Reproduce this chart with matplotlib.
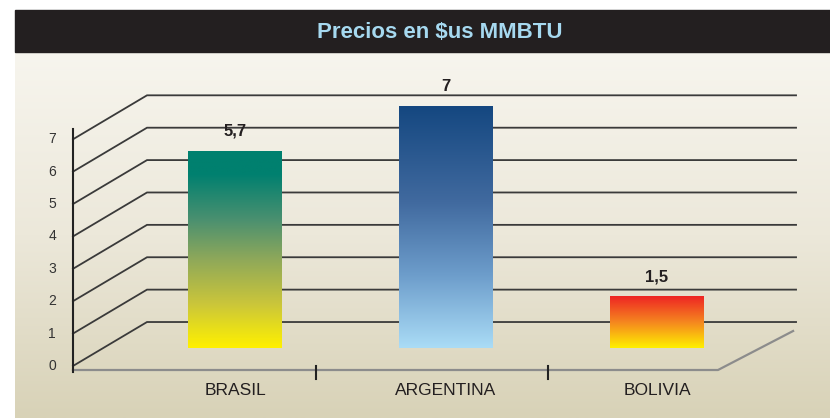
import matplotlib
matplotlib.use("Agg")  # headless

import matplotlib.pyplot as plt
import numpy as np
from matplotlib.colors import LinearSegmentedColormap
from matplotlib.patches import Rectangle

# ---------------------------------------------------------------------------
# Data
# ---------------------------------------------------------------------------
TITLE = r"Precios en \$us MMBTU"
CATEGORIES = ["BRASIL", "ARGENTINA", "BOLIVIA"]
PRICES = [5.7, 7.0, 1.5]
Y_TICKS = [0, 1, 2, 3, 4, 5, 6, 7]

# ---------------------------------------------------------------------------
# Style
# ---------------------------------------------------------------------------
W, H = 830, 418
C_TITLE_BG = "#231f20"
C_TITLE_FG = "#a6d9f0"
C_GRID = "#3a3a3a"
C_FLOOR = "#8c8c8c"
C_TEXT = "#231f20"
FONT = ["Liberation Sans", "DejaVu Sans"]

BAR_GRADIENTS = [
    [(0.0, "#00806f"), (0.12, "#00806f"), (0.35, "#4a9070"), (0.55, "#8ea85a"),
     (0.78, "#cbc63a"), (1.0, "#fff100")],
    [(0.0, "#144780"), (0.4, "#416a9f"), (0.7, "#6d9dcb"), (1.0, "#aadcf6")],
    [(0.0, "#ee2524"), (0.5, "#f5861f"), (1.0, "#fff000")],
]
BAR_WIDTH = 0.445

# pseudo-3D frame (in data units of the bar plane)
GRID_SCALE = 0.936          # grid step relative to one bar unit
FRONT_Y0, BACK_Y0 = -0.52, 0.751
FRONT_X, BACK_X, BACK_END = -0.768, -0.417, 2.659
FLOOR_Y, FLOOR_END = -0.636, 2.289
FLOOR_CORNER = (2.645, 0.491)
AXIS_TOP, AXIS_BOTTOM = 6.33, -0.694
SEPARATORS = [0.384, 1.483]
TICK_LABEL_X = -0.867
CAT_LABEL_Y = -1.214


def fmt(v: float) -> str:
    return f"{v:g}".replace(".", ",")


fig = plt.figure(figsize=(W / 100, H / 100), dpi=100)

# background + title band (pixel coordinates)
bg = fig.add_axes([0, 0, 1, 1])
bg.set_xlim(0, W)
bg.set_ylim(H, 0)
bg.axis("off")
beige = LinearSegmentedColormap.from_list("beige", ["#f7f5ee", "#ece8da", "#d8d2b7"])
bg.imshow(np.linspace(0, 1, 256).reshape(-1, 1), cmap=beige, aspect="auto",
          extent=(15, W, H, 52), zorder=0)
bg.add_patch(Rectangle((15, 10), W - 15, 42, color=C_TITLE_BG, zorder=1))
bg.text(440, 32, TITLE, ha="center", va="center", color=C_TITLE_FG,
        fontsize=16, fontweight="bold", family=FONT, zorder=2)
bg.set_xlim(0, W)
bg.set_ylim(H, 0)

# chart axes: x = category index, y = price (bar plane)
ax = fig.add_axes([0, 0, 1, 1])
ax.patch.set_alpha(0)
ax.axis("off")
x = np.arange(len(CATEGORIES))

# back wall + left wall grid
for k in Y_TICKS:
    yf = FRONT_Y0 + GRID_SCALE * k
    yb = BACK_Y0 + GRID_SCALE * k
    ax.plot([FRONT_X, BACK_X, BACK_END], [yf, yb, yb], color=C_GRID, lw=1.3,
            solid_joinstyle="miter", zorder=1)
    ax.text(TICK_LABEL_X, yf, str(k), ha="center", va="center",
            fontsize=10, color="#333333", family=FONT)

# front vertical axis and floor
ax.plot([FRONT_X, FRONT_X], [AXIS_BOTTOM, AXIS_TOP], color="#222222", lw=1.5, zorder=3)
ax.plot([FRONT_X, FLOOR_END, FLOOR_CORNER[0]], [FLOOR_Y, FLOOR_Y, FLOOR_CORNER[1]],
        color=C_FLOOR, lw=1.6, zorder=2)
for sx in SEPARATORS:
    ax.plot([sx, sx], [FRONT_Y0, FRONT_Y0 - 0.376], color="#222222", lw=1.5, zorder=3)

# bars with vertical gradients
bars = ax.bar(x, PRICES, width=BAR_WIDTH, color="none", edgecolor="none", zorder=4)
grad = np.linspace(0, 1, 256).reshape(-1, 1)
for bar, stops, v in zip(bars, BAR_GRADIENTS, PRICES):
    cmap = LinearSegmentedColormap.from_list("g", stops)
    bx = bar.get_x()
    im = ax.imshow(grad, cmap=cmap, aspect="auto", zorder=4,
                   extent=(bx, bx + bar.get_width(), 0, v), origin="upper")
    im.set_clip_path(bar)
    ax.annotate(fmt(v), (bar.get_x() + bar.get_width() / 2, v),
                xytext=(0, 14), textcoords="offset points", ha="center", va="center",
                fontsize=12, fontweight="bold", color=C_TEXT, family=FONT)

for xi, name in zip(x, CATEGORIES):
    ax.text(xi, CAT_LABEL_Y, name, ha="center", va="center", fontsize=12.5,
            color=C_TEXT, family=FONT)

# data -> pixel mapping: px = 446 + 211 (x - 1), py = 348 - 34.6 y
ax.set_xlim(1 - 446 / 211, 1 + (W - 446) / 211)
ax.set_ylim((348 - H) / 34.6, 348 / 34.6)

fig.savefig("out.png", dpi=100)
